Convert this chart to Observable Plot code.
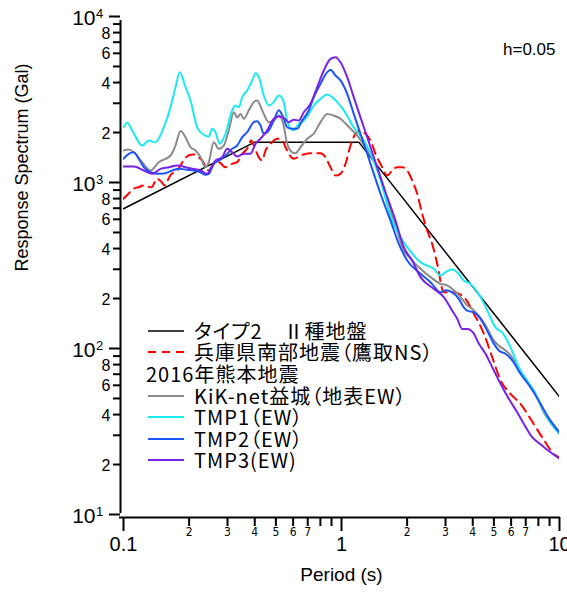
<!DOCTYPE html>
<html>
<head>
<meta charset="utf-8">
<script src="https://cdn.jsdelivr.net/npm/d3@7"></script>
<script src="https://cdn.jsdelivr.net/npm/@observablehq/plot@0.6"></script>
<style>
  body { margin: 0; background: #fff; }
  #chart { position: relative; width: 567px; height: 595px; font-family: "Liberation Sans", "Noto Sans CJK JP", sans-serif; }
  .legend { position: absolute; left: 146px; top: 320px; font-family: "Noto Sans CJK JP", sans-serif; font-size: 20px; letter-spacing: 1px; font-feature-settings: "palt" 1; color: #000; }
  .legend .row { display: flex; align-items: center; height: 21.6px; line-height: 20px; white-space: nowrap; overflow: visible; }
  .legend .row span, .legend .row .head { display: inline-block; line-height: 20px; height: 20px; }
  .legend .row svg { margin-left: 2px; margin-right: 10px; }
</style>
</head>
<body>
<div id="chart"></div>
<script>
// Design spectrum (Level 2, Type II, ground type II)
const designPeriod = [0.1, 0.4, 1.2, 10];
const designSa = [694.6, 1750, 1750, 51.1];

// 1995 Hyogo-ken Nanbu earthquake, Takatori NS
const kobePeriod = [0.1, 0.1054, 0.111, 0.1172, 0.1235, 0.1279, 0.1348, 0.1421, 0.1473, 0.1553, 0.1608, 0.1665, 0.1727, 0.1788, 0.1885, 0.1987, 0.2095, 0.2208, 0.2296, 0.2462, 0.2587, 0.2736, 0.2937, 0.315, 0.3323, 0.3504, 0.3693, 0.3853, 0.396, 0.4175, 0.4327, 0.4481, 0.4724, 0.507, 0.5346, 0.5535, 0.5733, 0.6042, 0.6486, 0.7208, 0.8012, 0.8445, 0.8903, 0.9387, 0.9895, 1.043, 1.1, 1.159, 1.222, 1.289, 1.358, 1.432, 1.537, 1.62, 1.708, 1.801, 1.898, 2.002, 2.11, 2.225, 2.345, 2.473, 2.606, 2.748, 2.946, 3.22, 3.451, 3.706, 4.046, 4.496, 4.913, 5.364, 5.961, 6.624, 7.362, 8.327, 9.587, 10];
const kobeSa = [798, 855, 916, 937, 959, 946, 937, 1053, 1028, 959, 1053, 1128, 1153, 1209, 1357, 1454, 1475, 1420, 1357, 1181, 1284, 1325, 1236, 1296, 1325, 1489, 1596, 1790, 1670, 1420, 1357, 1558, 1710, 1834, 1790, 1632, 1489, 1389, 1454, 1500, 1500, 1420, 1236, 1102, 1128, 1296, 1670, 1966, 2060, 1966, 1790, 1489, 1236, 1102, 1181, 1236, 1236, 1181, 1028, 855, 648, 514, 427, 324, 218, 218, 214, 199, 162, 123, 88.6, 64.5, 53.3, 46.4, 37.7, 29.2, 22.7, 22.1];

// 2016 Kumamoto earthquake, KiK-net Mashiki surface EW
const kikPeriod = [0.1, 0.1057, 0.1115, 0.1218, 0.133, 0.1452, 0.1643, 0.1732, 0.1826, 0.1925, 0.2029, 0.214, 0.2256, 0.2378, 0.2462, 0.2595, 0.2736, 0.2885, 0.3041, 0.3206, 0.3323, 0.3441, 0.3563, 0.3756, 0.396, 0.4106, 0.4327, 0.464, 0.4891, 0.5157, 0.5404, 0.5636, 0.5941, 0.6152, 0.6486, 0.6962, 0.7463, 0.8012, 0.86, 0.9221, 0.9895, 1.062, 1.18, 1.312, 1.458, 1.591, 1.769, 1.931, 2.072, 2.303, 2.56, 2.846, 3.054, 3.275, 3.515, 3.77, 3.978, 4.266, 4.578, 4.996, 5.268, 5.654, 6.067, 6.507, 6.982, 7.624, 8.472, 10];
const kikSa = [1558, 1580, 1520, 1325, 1181, 1325, 1454, 1670, 2040, 1875, 1632, 1558, 1420, 1236, 1325, 1750, 1596, 1670, 2060, 2650, 2470, 2590, 2420, 2720, 3050, 3120, 2720, 2310, 2360, 2530, 2260, 1710, 1520, 1500, 1632, 1834, 1970, 2310, 2590, 2530, 2420, 2210, 1920, 1558, 1236, 858, 551, 389, 348, 302, 269, 245, 240, 224, 204, 182, 173, 158, 138, 112, 104, 97.3, 88.6, 73.7, 64.5, 55.8, 41.3, 30.6];

// TMP1 (EW)
const tmp1Period = [0.1, 0.104, 0.1096, 0.1218, 0.1306, 0.1402, 0.1531, 0.1643, 0.1732, 0.1813, 0.1925, 0.2029, 0.2178, 0.2296, 0.2462, 0.2553, 0.2642, 0.2765, 0.2937, 0.315, 0.3264, 0.338, 0.3504, 0.3693, 0.3894, 0.4033, 0.4175, 0.4401, 0.464, 0.4891, 0.5157, 0.5404, 0.5636, 0.5834, 0.6042, 0.6369, 0.6714, 0.7079, 0.7463, 0.8012, 0.86, 0.9066, 0.9556, 1.025, 1.138, 1.266, 1.383, 1.51, 1.708, 1.865, 2.002, 2.303, 2.651, 2.846, 3.0, 3.22, 3.395, 3.64, 3.906, 4.341, 4.74, 5.087, 5.46, 5.854, 6.624, 7.11, 7.76, 8.78, 10];
const tmp1Sa = [2150, 2290, 2060, 1670, 1790, 1750, 2150, 2840, 3750, 4620, 3750, 3120, 2150, 1970, 1890, 2110, 2010, 1710, 1970, 2720, 2910, 2840, 3270, 3580, 4120, 4550, 4310, 3340, 2910, 3050, 3340, 3120, 2360, 2110, 2060, 2260, 2360, 2590, 2910, 3190, 3390, 3270, 3050, 2720, 2150, 1790, 1420, 1028, 590, 468, 408, 331, 302, 275, 288, 299, 288, 257, 245, 204, 162, 134, 125, 107, 73.7, 64.2, 53.3, 38.6, 30.6];

// TMP2 (EW)
const tmp2Period = [0.1, 0.1057, 0.1115, 0.1175, 0.1239, 0.133, 0.1428, 0.1558, 0.1673, 0.1793, 0.196, 0.2101, 0.2256, 0.2378, 0.2462, 0.2595, 0.2736, 0.2937, 0.315, 0.3323, 0.3504, 0.3693, 0.396, 0.4106, 0.4249, 0.4401, 0.464, 0.4891, 0.5157, 0.5404, 0.5636, 0.5941, 0.6262, 0.6602, 0.7079, 0.7463, 0.8012, 0.86, 0.8903, 0.9387, 0.9895, 1.062, 1.138, 1.222, 1.312, 1.407, 1.51, 1.678, 1.832, 2.002, 2.303, 2.56, 2.846, 3.0, 3.22, 3.451, 3.64, 3.77, 4.046, 4.341, 4.659, 4.996, 5.268, 5.654, 6.067, 6.624, 7.362, 8.18, 9.093, 10];
const tmp2Sa = [1389, 1489, 1520, 1389, 1236, 1153, 1128, 1138, 1181, 1209, 1193, 1181, 1153, 1113, 1128, 1296, 1357, 1454, 1596, 1670, 1875, 2010, 2310, 2340, 2210, 1966, 2060, 2360, 2720, 2470, 2150, 2110, 2110, 2360, 2720, 3270, 3930, 4620, 4770, 4410, 4120, 3420, 2590, 1966, 1489, 1128, 855, 590, 427, 339, 282, 251, 218, 224, 218, 199, 177, 169, 165, 151, 128, 107, 97.3, 92.9, 84.7, 70.4, 58.4, 46.4, 36.8, 31.3];

// TMP3 (EW)
const tmp3Period = [0.1, 0.1115, 0.1239, 0.1354, 0.1478, 0.1614, 0.1763, 0.1925, 0.2066, 0.2256, 0.2421, 0.2506, 0.2642, 0.2836, 0.299, 0.315, 0.3323, 0.3563, 0.3825, 0.4033, 0.4249, 0.4564, 0.4891, 0.5157, 0.5432, 0.5733, 0.6042, 0.6369, 0.6714, 0.7208, 0.7736, 0.8295, 0.8903, 0.9387, 0.9895, 1.062, 1.138, 1.222, 1.312, 1.407, 1.563, 1.769, 1.931, 2.11, 2.303, 2.651, 2.946, 3.22, 3.395, 3.578, 3.77, 4.046, 4.266, 4.578, 4.913, 5.364, 5.854, 6.396, 6.859, 7.496, 8.327, 9.093, 10];
const tmp3Sa = [1248, 1248, 1181, 1128, 1209, 1236, 1266, 1236, 1209, 1181, 1128, 1209, 1357, 1420, 1596, 1520, 1434, 1489, 1489, 1710, 1834, 2060, 2420, 2500, 2450, 2310, 2390, 2360, 2650, 2980, 3750, 4730, 5560, 5690, 5300, 4310, 3270, 2470, 1875, 1420, 937, 590, 408, 339, 269, 229, 204, 169, 151, 131, 131, 123, 107, 92.9, 77.2, 61.3, 49.8, 41.3, 35.2, 29.2, 26.0, 23.7, 21.7];

// Axis ticks
const xMajor = [0.1, 1, 10];
const xMajorLabels = ["0.1", "1", "10"];
const xMinorMantissa = [2, 3, 4, 5, 6, 7, 8, 9];
const xMinorLabelled = [2, 3, 4, 5, 6, 7];
const yMajor = [10, 100, 1000, 10000];
const yMinorMantissa = [2, 3, 4, 5, 6, 7, 8, 9];
const yMinorLabelled = [2, 4, 6, 8];

// Text
const xTitle = "Period (s)";
const yTitle = "Response Spectrum (Gal)";
const dampingNote = "h=0.05";
const kumamotoHeading = "2016年熊本地震";

const series = [
  {name: "タイプ2　Ⅱ種地盤", period: designPeriod, sa: designSa, color: "#000000", width: 1.5, dash: null, curve: "linear"},
  {name: "兵庫県南部地震（鷹取NS）", period: kobePeriod, sa: kobeSa, color: "#ff0000", width: 2, dash: "9,6", curve: "monotone-x"},
  {name: "KiK-net益城（地表EW）", period: kikPeriod, sa: kikSa, color: "#8a8a8a", width: 2, dash: null, curve: "monotone-x", heading: kumamotoHeading},
  {name: "TMP1（EW）", period: tmp1Period, sa: tmp1Sa, color: "#19eaf0", width: 2, dash: null, curve: "monotone-x"},
  {name: "TMP2（EW）", period: tmp2Period, sa: tmp2Sa, color: "#1c55f5", width: 2, dash: null, curve: "monotone-x"},
  {name: "TMP3(EW)", period: tmp3Period, sa: tmp3Sa, color: "#7722e6", width: 2, dash: null, curve: "monotone-x"}
];

const mantissaOf = d => Math.round(d / Math.pow(10, Math.floor(Math.log10(d) + 1e-9)));
const xMinor = [0.1, 1].flatMap(p => xMinorMantissa.map(m => m * p));
const xMinorText = [0.1, 1].flatMap(p => xMinorLabelled.map(m => m * p));
const yMinor = [10, 100, 1000].flatMap(p => yMinorMantissa.map(m => m * p));
const yMinorText = [10, 100, 1000].flatMap(p => yMinorLabelled.map(m => m * p));

const lineMarks = series.map(s => Plot.line(
  s.period.map((t, i) => ({t, sa: s.sa[i]})),
  {x: "t", y: "sa", stroke: s.color, strokeWidth: s.width, strokeDasharray: s.dash, curve: s.curve, clip: true}
));

const chart = Plot.plot({
  width: 567,
  height: 595,
  marginLeft: 123,
  marginRight: 8,
  marginTop: 16,
  marginBottom: 81,
  style: {fontFamily: '"Liberation Sans", "Noto Sans CJK JP", sans-serif', background: "#fff", color: "#000", overflow: "visible"},
  x: {type: "log", domain: [xMajor[0], xMajor[xMajor.length - 1]]},
  y: {type: "log", domain: [yMajor[0], yMajor[yMajor.length - 1]]},
  marks: [
    // axis lines, offset slightly outside the data area
    Plot.ruleX([xMajor[0]], {y1: yMajor[0], y2: yMajor[yMajor.length - 1], dx: -3, insetBottom: -4, insetTop: -1, strokeWidth: 2, stroke: "#000"}),
    Plot.ruleY([yMajor[0]], {x1: xMajor[0], x2: xMajor[xMajor.length - 1], dy: 3, insetLeft: -4, insetRight: -1, strokeWidth: 2, stroke: "#000"}),
    // y ticks and labels
    Plot.axisY(yMinor, {anchor: "left", dx: -3, tickSize: 7, strokeWidth: 2, label: null, tickFormat: () => ""}),
    Plot.axisY(yMajor, {anchor: "left", dx: -3, tickSize: 11, strokeWidth: 2, label: null, tickFormat: () => ""}),
    Plot.text(yMinorText, {y: d => d, frameAnchor: "left", dx: -13, dy: 1, textAnchor: "end", text: d => String(mantissaOf(d)), fontSize: 16}),
    Plot.text(yMajor, {y: d => d, frameAnchor: "left", dx: -28, dy: 2, textAnchor: "end", text: () => "10", fontSize: 21}),
    Plot.text(yMajor, {y: d => d, frameAnchor: "left", dx: -27.5, dy: -3, textAnchor: "start", text: d => String(Math.round(Math.log10(d))), fontSize: 13}),
    // x ticks and labels
    Plot.axisX(xMinor, {anchor: "bottom", dy: 3, tickSize: 9, strokeWidth: 2, label: null, tickFormat: () => ""}),
    Plot.axisX(xMajor, {anchor: "bottom", dy: 3, tickSize: 14, strokeWidth: 2, label: null, tickFormat: () => ""}),
    Plot.text(xMinorText, {x: d => d, frameAnchor: "bottom", dy: 21, text: d => String(mantissaOf(d)), fontSize: 12,
      fontFamily: '"Liberation Sans Narrow", "DejaVu Sans Condensed", "Liberation Sans", sans-serif'}),
    Plot.text(xMajor, {x: d => d, frameAnchor: "bottom", dy: 36, text: (d, i) => xMajorLabels[i], fontSize: 20}),
    // titles
    Plot.text([xTitle], {frameAnchor: "bottom", dy: 66, fontSize: 19}),
    Plot.text([yTitle], {frameAnchor: "left", dx: -101, dy: 6, rotate: -90, fontSize: 18}),
    Plot.text([dampingNote], {frameAnchor: "top-right", dx: -4, dy: 26, textAnchor: "end", fontSize: 17}),
    ...lineMarks
  ]
});

const root = document.getElementById("chart");
root.appendChild(chart);

// legend
const legend = document.createElement("div");
legend.className = "legend";
for (const s of series) {
  if (s.heading) {
    const h = document.createElement("div");
    h.className = "row";
    const ht = document.createElement("span");
    ht.textContent = s.heading;
    h.appendChild(ht);
    legend.appendChild(h);
  }
  const row = document.createElement("div");
  row.className = "row";
  const sw = d3.create("svg").attr("width", 36).attr("height", 10);
  sw.append("line").attr("x1", 0).attr("x2", 36).attr("y1", 5).attr("y2", 5)
    .attr("stroke", s.color).attr("stroke-width", s.width)
    .attr("stroke-dasharray", s.dash ? "8,6" : null);
  row.appendChild(sw.node());
  const label = document.createElement("span");
  label.textContent = s.name;
  row.appendChild(label);
  legend.appendChild(row);
}
root.appendChild(legend);
</script>
</body>
</html>
